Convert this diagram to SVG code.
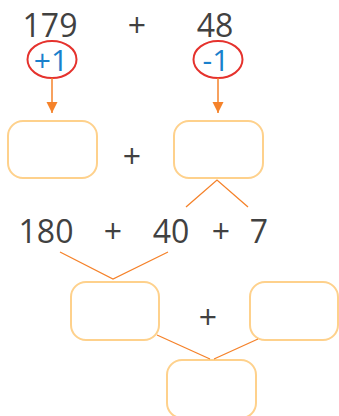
<svg xmlns="http://www.w3.org/2000/svg" width="339" height="416" viewBox="0 0 339 416">
<style>
.t{font-family:"Open Sans","Liberation Sans",sans-serif;font-size:32px;fill:#414141}
.b{font-family:"Open Sans","Liberation Sans",sans-serif;font-size:30px;fill:#1a80cc}
.box{fill:#fff;stroke:#fed18c;stroke-width:2}
.ring{fill:none;stroke:#e5322d;stroke-width:2}
.ln{stroke:#f5822a;stroke-width:1.3;fill:none}
.ar{stroke:#f5822a;stroke-width:1.5;fill:none}
</style>
<defs>
<marker id="ah" viewBox="0 0 10 10" refX="10" refY="5" markerWidth="11" markerHeight="16" markerUnits="userSpaceOnUse" orient="auto">
<path d="M0,0 L10,5 L0,10 z" fill="#f5822a"/>
</marker>
</defs>
<g id="texts">
<text class="t" x="50" y="37" text-anchor="middle">179</text>
<text class="t" x="137" y="37" text-anchor="middle">+</text>
<text class="t" x="215" y="37" text-anchor="middle">48</text>
<text class="t" x="132" y="168" text-anchor="middle">+</text>
<text class="t" x="46" y="243" text-anchor="middle">180</text>
<text class="t" x="113" y="243" text-anchor="middle">+</text>
<text class="t" x="171" y="243" text-anchor="middle">40</text>
<text class="t" x="221" y="243" text-anchor="middle">+</text>
<text class="t" x="259" y="243" text-anchor="middle">7</text>
<text class="t" x="208" y="329" text-anchor="middle">+</text>
</g>
<g id="n-plus1">
<ellipse class="ring" cx="52" cy="59.5" rx="24.5" ry="18.5"/>
<text class="b" x="51" y="71" text-anchor="middle">+1</text>
</g>
<g id="n-minus1">
<ellipse class="ring" cx="218" cy="59.5" rx="24.5" ry="18.5"/>
<text class="b" x="216" y="71" text-anchor="middle">-1</text>
</g>
<g id="n-box1"><rect class="box" x="8" y="121" width="89" height="57" rx="15"/></g>
<g id="n-box2"><rect class="box" x="174" y="121" width="89" height="57" rx="15"/></g>
<g id="n-box3"><rect class="box" x="71" y="282" width="88" height="58" rx="15"/></g>
<g id="n-box4"><rect class="box" x="250" y="282" width="88" height="58" rx="15"/></g>
<g id="n-box5"><rect class="box" x="167" y="360" width="89" height="58" rx="15"/></g>
<g id="connectors">
<line class="ar" x1="52" y1="78" x2="52" y2="113" marker-end="url(#ah)"/>
<line class="ar" x1="218" y1="78" x2="218" y2="113" marker-end="url(#ah)"/>
<polyline class="ln" points="186,207 217,180 248,207"/>
<polyline class="ln" points="60,252 113,279 168,252"/>
<polyline class="ln" points="157,335 210,359"/>
<polyline class="ln" points="258,339 214,359"/>
</g>
</svg>
